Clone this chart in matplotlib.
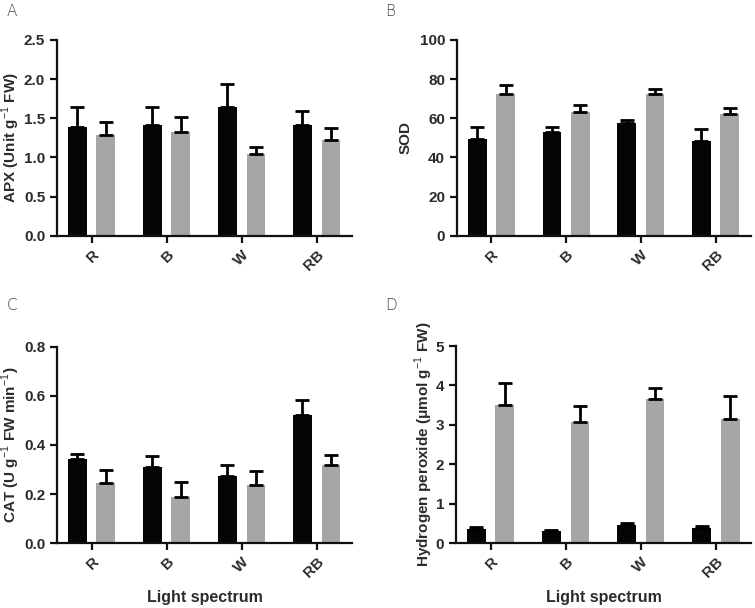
import numpy as np
import matplotlib
matplotlib.use('Agg')
import matplotlib.pyplot as plt

plt.rcParams['font.family'] = ['Liberation Sans', 'DejaVu Sans']
plt.rcParams['mathtext.fontset'] = 'custom'
plt.rcParams['mathtext.rm'] = 'Liberation Sans'
plt.rcParams['mathtext.bf'] = 'Liberation Sans:bold'

# Datos
categorias = ['R', 'B', 'W', 'RB']

apx_negro = [1.39, 1.42, 1.64, 1.42]
apx_negro_err = [0.26, 0.23, 0.30, 0.17]
apx_gris = [1.29, 1.33, 1.05, 1.22]
apx_gris_err = [0.16, 0.19, 0.08, 0.16]

sod_negro = [49.5, 52.8, 57.8, 48.3]
sod_negro_err = [6.3, 3.0, 1.4, 6.4]
sod_gris = [72.2, 63.3, 72.2, 62.1]
sod_gris_err = [5.0, 3.6, 2.5, 3.3]

cat_negro = [0.341, 0.312, 0.272, 0.521]
cat_negro_err = [0.022, 0.043, 0.045, 0.063]
cat_gris = [0.244, 0.188, 0.238, 0.318]
cat_gris_err = [0.055, 0.061, 0.057, 0.040]

h2o2_negro = [0.36, 0.30, 0.46, 0.39]
h2o2_negro_err = [0.04, 0.03, 0.06, 0.03]
h2o2_gris = [3.51, 3.07, 3.66, 3.14]
h2o2_gris_err = [0.55, 0.40, 0.28, 0.60]

COLOR_TEXTO = '#2b2b2b'


def dibujar_panel(ax, negro, negro_err, gris, gris_err, ylim, yticks, ylabel,
                  ylabel_x, etiqueta_x=False):
    x = np.arange(len(categorias))
    ancho = 0.25
    desp = 0.19
    err_kw = dict(ecolor='black', elinewidth=2, capsize=5, capthick=2)
    ax.bar(x - desp, negro, ancho, color='#050505',
           yerr=[np.zeros(len(negro)), negro_err], error_kw=err_kw, zorder=2)
    ax.bar(x + desp, gris, ancho, color='#a6a6a6',
           yerr=[np.zeros(len(gris)), gris_err], error_kw=err_kw, zorder=2)
    ax.set_xlim(-0.46, len(categorias) - 1 + 0.47)
    ax.set_ylim(ylim)
    ax.set_yticks(yticks)
    ax.set_xticks(x)
    ax.set_xticklabels(categorias, rotation=45, ha='right', rotation_mode='anchor')
    for s in ['top', 'right']:
        ax.spines[s].set_visible(False)
    for s in ['left', 'bottom']:
        ax.spines[s].set_linewidth(1.6)
        ax.spines[s].set_color('#111111')
    ax.tick_params(axis='both', direction='out', length=5, width=1.6,
                   labelsize=11, labelcolor=COLOR_TEXTO, color='#111111')
    for lab in ax.get_xticklabels() + ax.get_yticklabels():
        lab.set_fontweight('bold')
    ax.set_ylabel(ylabel, fontsize=11, fontweight='bold', color=COLOR_TEXTO)
    ax.yaxis.set_label_coords(ylabel_x, 0.5)
    if etiqueta_x:
        ax.set_xlabel('Light spectrum', fontsize=11.5, fontweight='bold',
                      color=COLOR_TEXTO)
        ax.xaxis.set_label_coords(0.5, -0.24)


fig = plt.figure(figsize=(7.55, 6.08), dpi=100)

ax_a = fig.add_axes([0.0755, 0.612, 0.3907, 0.3224])
ax_b = fig.add_axes([0.6053, 0.612, 0.389, 0.3224])
ax_c = fig.add_axes([0.0755, 0.1069, 0.3907, 0.3224])
ax_d = fig.add_axes([0.604, 0.1069, 0.391, 0.324])

dibujar_panel(ax_a, apx_negro, apx_negro_err, apx_gris, apx_gris_err,
              (0, 2.5), np.arange(0, 2.51, 0.5), r'APX (Unit g$^{-1}$ FW)', -0.119)
ax_a.yaxis.set_major_formatter(matplotlib.ticker.FormatStrFormatter('%.1f'))

dibujar_panel(ax_b, sod_negro, sod_negro_err, sod_gris, sod_gris_err,
              (0, 100), np.arange(0, 101, 20), 'SOD', -0.15)

dibujar_panel(ax_c, cat_negro, cat_negro_err, cat_gris, cat_gris_err,
              (0, 0.8), np.arange(0, 0.81, 0.2), r'CAT (U g$^{-1}$ FW min$^{-1}$)',
              -0.119, etiqueta_x=True)
ax_c.yaxis.set_major_formatter(matplotlib.ticker.FormatStrFormatter('%.1f'))

dibujar_panel(ax_d, h2o2_negro, h2o2_negro_err, h2o2_gris, h2o2_gris_err,
              (0, 5), np.arange(0, 6, 1), r'Hydrogen peroxide (μmol g$^{-1}$ FW)',
              -0.071, etiqueta_x=True)

for letra, (px, py) in zip('ABCD', [(7, 12), (385, 12), (7, 306), (385, 306)]):
    fig.text(px / 755, 1 - py / 608, letra, fontsize=11, color='#444444',
             ha='left', va='center', family='DejaVu Sans', fontweight='light')

plt.savefig('out.png', dpi=100)
